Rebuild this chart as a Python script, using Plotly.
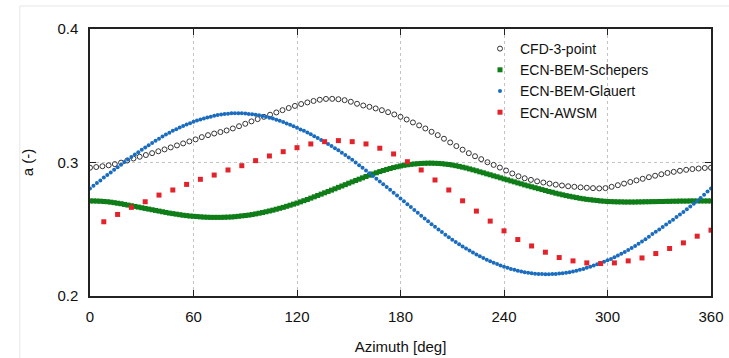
import plotly.graph_objects as go

# ---------------- data ----------------
cfd_azimuth = [round(i * 3.6, 1) for i in range(101)]
cfd_a = [
    0.2961, 0.2966, 0.2972, 0.2979, 0.2988, 0.2999, 0.3015, 0.3030, 0.3043, 0.3056,
    0.3070, 0.3084, 0.3098, 0.3113, 0.3128, 0.3143, 0.3158, 0.3173, 0.3190, 0.3205,
    0.3217, 0.3228, 0.3240, 0.3255, 0.3272, 0.3290, 0.3308, 0.3325, 0.3342, 0.3358,
    0.3375, 0.3392, 0.3408, 0.3424, 0.3438, 0.3450, 0.3461, 0.3470, 0.3476, 0.3477,
    0.3474, 0.3467, 0.3455, 0.3440, 0.3427, 0.3417, 0.3405, 0.3392, 0.3377, 0.3360,
    0.3342, 0.3322, 0.3300, 0.3278, 0.3255, 0.3230, 0.3205, 0.3178, 0.3150, 0.3123,
    0.3096, 0.3070, 0.3047, 0.3025, 0.3002, 0.2982, 0.2962, 0.2940, 0.2918, 0.2897,
    0.2882, 0.2870, 0.2859, 0.2850, 0.2842, 0.2834, 0.2828, 0.2822, 0.2818, 0.2814,
    0.2811, 0.2808, 0.2806, 0.2808, 0.2818, 0.2830, 0.2842, 0.2854, 0.2866, 0.2878,
    0.2890, 0.2901, 0.2912, 0.2922, 0.2930, 0.2938, 0.2945, 0.2951, 0.2955, 0.2959,
    0.2961,
]

bem_azimuth = list(range(0, 361, 2))
schepers_a = [
    0.2712, 0.2712, 0.2711, 0.2710, 0.2708, 0.2706, 0.2703, 0.2699, 0.2695, 0.2691,
    0.2686, 0.2681, 0.2676, 0.2671, 0.2666, 0.2661, 0.2656, 0.2651, 0.2646, 0.2641,
    0.2636, 0.2631, 0.2626, 0.2621, 0.2617, 0.2613, 0.2609, 0.2605, 0.2602, 0.2599,
    0.2597, 0.2595, 0.2593, 0.2591, 0.2590, 0.2589, 0.2589, 0.2589, 0.2589, 0.2590,
    0.2591, 0.2592, 0.2594, 0.2597, 0.2600, 0.2603, 0.2606, 0.2610, 0.2615, 0.2620,
    0.2625, 0.2631, 0.2637, 0.2643, 0.2650, 0.2657, 0.2664, 0.2672, 0.2680, 0.2688,
    0.2696, 0.2705, 0.2714, 0.2723, 0.2733, 0.2743, 0.2753, 0.2763, 0.2773, 0.2783,
    0.2793, 0.2803, 0.2814, 0.2824, 0.2834, 0.2845, 0.2855, 0.2865, 0.2875, 0.2885,
    0.2895, 0.2905, 0.2914, 0.2923, 0.2932, 0.2940, 0.2948, 0.2955, 0.2962, 0.2968,
    0.2974, 0.2979, 0.2983, 0.2986, 0.2989, 0.2991, 0.2993, 0.2994, 0.2995, 0.2995,
    0.2994, 0.2993, 0.2991, 0.2988, 0.2985, 0.2981, 0.2976, 0.2971, 0.2965, 0.2959,
    0.2952, 0.2945, 0.2938, 0.2930, 0.2923, 0.2915, 0.2908, 0.2900, 0.2893, 0.2885,
    0.2877, 0.2870, 0.2862, 0.2855, 0.2847, 0.2840, 0.2832, 0.2825, 0.2818, 0.2811,
    0.2804, 0.2797, 0.2790, 0.2783, 0.2777, 0.2770, 0.2764, 0.2758, 0.2752, 0.2747,
    0.2742, 0.2737, 0.2732, 0.2728, 0.2724, 0.2721, 0.2718, 0.2715, 0.2712, 0.2710,
    0.2708, 0.2707, 0.2706, 0.2705, 0.2705, 0.2704, 0.2704, 0.2704, 0.2704, 0.2705,
    0.2705, 0.2706, 0.2706, 0.2707, 0.2707, 0.2708, 0.2708, 0.2709, 0.2709, 0.2710,
    0.2710, 0.2711, 0.2711, 0.2711, 0.2712, 0.2712, 0.2712, 0.2712, 0.2712, 0.2712,
    0.2712,
]
glauert_a = [
    0.2806, 0.2826, 0.2846, 0.2866, 0.2887, 0.2906, 0.2926, 0.2945, 0.2965, 0.2984,
    0.3003, 0.3022, 0.3041, 0.3060, 0.3077, 0.3096, 0.3113, 0.3129, 0.3147, 0.3162,
    0.3178, 0.3194, 0.3209, 0.3223, 0.3237, 0.3249, 0.3262, 0.3273, 0.3284, 0.3294,
    0.3305, 0.3314, 0.3322, 0.3330, 0.3338, 0.3343, 0.3350, 0.3355, 0.3360, 0.3363,
    0.3366, 0.3368, 0.3369, 0.3369, 0.3368, 0.3367, 0.3364, 0.3362, 0.3358, 0.3354,
    0.3348, 0.3343, 0.3336, 0.3329, 0.3321, 0.3313, 0.3303, 0.3293, 0.3283, 0.3272,
    0.3260, 0.3248, 0.3237, 0.3224, 0.3211, 0.3197, 0.3183, 0.3169, 0.3153, 0.3138,
    0.3123, 0.3107, 0.3091, 0.3073, 0.3056, 0.3038, 0.3020, 0.3000, 0.2980, 0.2960,
    0.2940, 0.2920, 0.2899, 0.2878, 0.2858, 0.2837, 0.2816, 0.2795, 0.2773, 0.2752,
    0.2731, 0.2709, 0.2688, 0.2666, 0.2644, 0.2623, 0.2601, 0.2580, 0.2559, 0.2538,
    0.2518, 0.2498, 0.2479, 0.2459, 0.2440, 0.2422, 0.2404, 0.2387, 0.2371, 0.2355,
    0.2340, 0.2325, 0.2311, 0.2297, 0.2284, 0.2272, 0.2260, 0.2249, 0.2239, 0.2229,
    0.2220, 0.2211, 0.2203, 0.2196, 0.2190, 0.2184, 0.2178, 0.2174, 0.2170, 0.2167,
    0.2165, 0.2164, 0.2163, 0.2163, 0.2164, 0.2165, 0.2168, 0.2170, 0.2174, 0.2178,
    0.2184, 0.2189, 0.2196, 0.2203, 0.2211, 0.2220, 0.2229, 0.2238, 0.2247, 0.2257,
    0.2267, 0.2278, 0.2290, 0.2303, 0.2316, 0.2330, 0.2344, 0.2359, 0.2375, 0.2391,
    0.2409, 0.2426, 0.2444, 0.2464, 0.2482, 0.2499, 0.2517, 0.2535, 0.2554, 0.2572,
    0.2591, 0.2610, 0.2630, 0.2650, 0.2670, 0.2691, 0.2712, 0.2735, 0.2759, 0.2782,
    0.2806,
]

awsm_azimuth = list(range(8, 361, 8))
awsm_a = [
    0.2556, 0.2611, 0.2664, 0.2706, 0.2756, 0.2794, 0.2836, 0.2874, 0.2906, 0.2944,
    0.2976, 0.3014, 0.3049, 0.3081, 0.3111, 0.3139, 0.3156, 0.3164, 0.3156, 0.3139,
    0.3107, 0.3064, 0.3006, 0.2944, 0.2869, 0.2794, 0.2713, 0.2636, 0.2561, 0.2488,
    0.2423, 0.2375, 0.2328, 0.2288, 0.2263, 0.2248, 0.2243, 0.2248, 0.2263, 0.2285,
    0.2318, 0.2356, 0.2398, 0.2448, 0.2493,
]

x_ticks = [0, 60, 120, 180, 240, 300, 360]
y_ticks = [0.2, 0.3, 0.4]

FONT = "Liberation Sans, Arial, sans-serif"
TXT = "#111111"

fig = go.Figure()
fig.add_trace(go.Scatter(
    x=cfd_azimuth, y=cfd_a, mode="markers", name="CFD-3-point",
    marker=dict(symbol="circle-open", size=5, color="#333333", line=dict(width=1, color="#333333")),
))
fig.add_trace(go.Scatter(
    x=bem_azimuth, y=schepers_a, mode="markers", name="ECN-BEM-Schepers",
    marker=dict(symbol="square", size=5, color="#0f7d18"),
))
fig.add_trace(go.Scatter(
    x=bem_azimuth, y=glauert_a, mode="markers", name="ECN-BEM-Glauert",
    marker=dict(symbol="circle", size=4, color="#1a6cbf"),
))
fig.add_trace(go.Scatter(
    x=awsm_azimuth, y=awsm_a, mode="markers", name="ECN-AWSM",
    marker=dict(symbol="square", size=5, color="#e2232b"),
))

axis_common = dict(
    showline=True, linecolor="#222222", linewidth=1.5, mirror="ticks",
    ticks="inside", ticklen=6, tickcolor="#222222", tickwidth=1,
    showgrid=True, gridcolor="#c4c4c4", griddash="dot", gridwidth=1,
    zeroline=False, automargin=False,
    tickfont=dict(family=FONT, size=15, color=TXT),
)

fig.update_xaxes(
    range=[0, 360], tickvals=x_ticks, ticktext=[str(v) for v in x_ticks],
    title=dict(text="Azimuth [deg]", font=dict(family=FONT, size=15, color=TXT), standoff=18),
    ticklabelstandoff=6,
    **axis_common,
)
fig.update_yaxes(
    range=[0.2, 0.4], tickvals=y_ticks, ticktext=[f"{v:.1f}" for v in y_ticks],
    title=dict(text="a (-)", font=dict(family=FONT, size=15, color=TXT), standoff=20),
    ticklabelstandoff=7,
    **axis_common,
)

fig.update_layout(
    width=729, height=358,
    margin=dict(l=90, r=18, t=29, b=62),
    paper_bgcolor="white", plot_bgcolor="white",
    showlegend=True,
    legend=dict(
        x=0.628, y=0.985, xanchor="left", yanchor="top",
        bgcolor="rgba(0,0,0,0)", borderwidth=0,
        font=dict(family=FONT, size=14, color=TXT),
        tracegroupgap=0, itemsizing="trace",
    ),
    shapes=[
        dict(type="line", xref="paper", yref="paper", x0=-0.113, x1=1.1, y0=1.086, y1=1.086,
             line=dict(color="#e6e6e6", width=1)),
        dict(type="line", xref="paper", yref="paper", x0=-0.113, x1=-0.113, y0=-0.3, y1=1.086,
             line=dict(color="#e6e6e6", width=1)),
    ],
)

# remove the browser's default 8px body margin so the figure fills the window exactly
fig.write_html(
    "out.html",
    config={"displayModeBar": False},
    post_script="document.body.style.margin='0';document.body.style.overflow='hidden';",
)
